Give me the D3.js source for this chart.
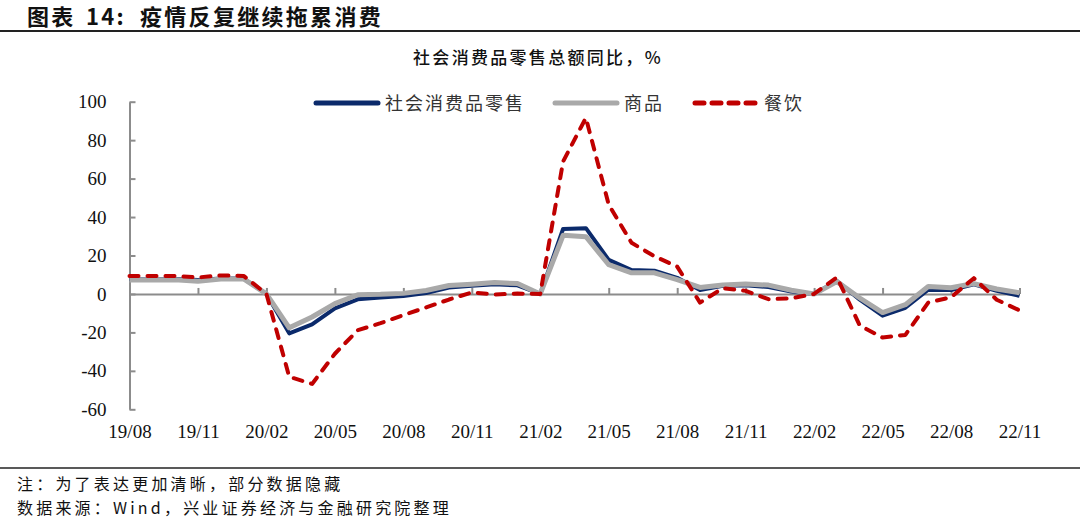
<!DOCTYPE html>
<html>
<head>
<meta charset="utf-8">
<script src="https://cdn.jsdelivr.net/npm/d3@7/dist/d3.min.js"></script>
<style>
  body { margin: 0; background: #fff; }
  svg { display: block; }
</style>
</head>
<body>
<div id="chart"></div>
<script>
// months 19/08 .. 22/11 (Jan values hidden -> 0)
const months = ["19/08","19/09","19/10","19/11","19/12","20/01","20/02","20/03","20/04","20/05",
  "20/06","20/07","20/08","20/09","20/10","20/11","20/12","21/01","21/02","21/03",
  "21/04","21/05","21/06","21/07","21/08","21/09","21/10","21/11","21/12","22/01",
  "22/02","22/03","22/04","22/05","22/06","22/07","22/08","22/09","22/10","22/11"];

const retail = [7.6, 7.5, 7.8, 7.2, 8.0, 8.0, 0, -20.5, -15.8, -7.5,
  -2.8, -1.8, -1.1, 0.5, 3.3, 4.3, 5.0, 4.5, 0, 33.8,
  34.2, 17.7, 12.4, 12.1, 8.4, 2.0, 4.2, 4.5, 3.6, 1.3,
  0, 6.7, -3.0, -11.3, -7.2, 2.2, 2.0, 5.0, 1.6, -1.0];

const goods = [7.3, 7.2, 7.4, 6.6, 7.8, 7.8, 0, -17.6, -12.0, -5.0,
  -0.4, -0.2, 0.3, 1.8, 4.4, 5.1, 5.9, 5.4, 0, 30.5,
  29.8, 15.2, 11.0, 11.0, 7.4, 3.4, 4.7, 5.2, 4.6, 1.9,
  0, 6.4, -2.1, -9.7, -5.6, 3.9, 3.2, 5.4, 2.6, 0.6];

const catering = [9.4, 9.4, 9.3, 8.6, 9.6, 9.4, 0, -43.1, -46.8, -31.1,
  -18.9, -15.2, -11.0, -7.0, -2.9, 0.8, -0.3, 0.2, 0, 68.9,
  91.6, 46.4, 26.6, 19.6, 14.2, -4.5, 3.0, 1.6, -2.7, -2.3,
  0, 8.7, -16.4, -22.7, -21.3, -4.5, -1.7, 8.2, -3.0, -8.5];

const yTicks = [-60, -40, -20, 0, 20, 40, 60, 80, 100];
const xLabels = months.filter((d, i) => i % 3 === 0);

const series = [
  { name: "社会消费品零售", values: retail, color: "#0b2a6b", width: 4, dash: null },
  { name: "商品", values: goods, color: "#a9a9a9", width: 5, dash: null },
  { name: "餐饮", values: catering, color: "#c00000", width: 4, dash: "9,9" }
];

const width = 1080, height = 519;
const svg = d3.select("#chart").append("svg")
  .attr("width", width)
  .attr("height", height);

const x = d3.scalePoint().domain(months).range([129.5, 1019.5]);
const y = d3.scaleLinear().domain([-60, 100]).range([409.3, 101.7]);

// title, pieces placed like the original layout
const title = svg.append("text")
  .attr("y", 25)
  .attr("font-family", "Noto Sans CJK SC")
  .attr("font-weight", 700)
  .attr("font-size", 22)
  .attr("letter-spacing", 2.3)
  .attr("fill", "#111");
title.append("tspan").attr("x", 27).text("图表");
title.append("tspan").attr("x", 86).text("14:");
title.append("tspan").attr("x", 140).text("疫情反复继续拖累消费");

svg.append("line")
  .attr("x1", 0).attr("x2", width)
  .attr("y1", 31).attr("y2", 31)
  .attr("stroke", "#222").attr("stroke-width", 2);

svg.append("text")
  .attr("x", 538).attr("y", 64)
  .attr("text-anchor", "middle")
  .attr("font-family", "Noto Sans CJK SC")
  .attr("font-weight", 500)
  .attr("font-size", 17)
  .attr("letter-spacing", 2.3)
  .attr("fill", "#111")
  .text("社会消费品零售总额同比，%");

// y axis
const yAxis = svg.append("g")
  .attr("transform", "translate(129.5,0)")
  .call(d3.axisLeft(y).tickValues(yTicks).tickFormat(d => String(d))
    .tickSizeInner(-6).tickSizeOuter(0).tickPadding(23));
yAxis.select(".domain").attr("stroke", "#8c8c8c").attr("stroke-width", 2);
yAxis.selectAll(".tick line").attr("stroke", "#8c8c8c").attr("stroke-width", 2);
yAxis.selectAll(".tick text")
  .attr("font-family", "Liberation Serif")
  .attr("font-size", 19)
  .attr("fill", "#111");

// zero line with ticks
const xAxis = svg.append("g")
  .attr("transform", `translate(0,${y(0)})`)
  .call(d3.axisBottom(x).tickValues(xLabels).tickSizeInner(-6).tickSizeOuter(0).tickFormat(""));
xAxis.select(".domain").attr("stroke", "#8c8c8c").attr("stroke-width", 2);
xAxis.selectAll(".tick line").attr("stroke", "#8c8c8c").attr("stroke-width", 2);

// category labels at bottom
const xLab = svg.append("g")
  .attr("transform", "translate(0,424)")
  .call(d3.axisBottom(x).tickValues(xLabels).tickSize(0).tickPadding(0));
xLab.select(".domain").remove();
xLab.selectAll(".tick text")
  .attr("font-family", "Liberation Serif")
  .attr("font-size", 19)
  .attr("fill", "#111");

// lines
const line = d3.line().x((d, i) => x(months[i])).y(d => y(d));
svg.append("g").selectAll("path")
  .data(series)
  .join("path")
  .attr("d", d => line(d.values))
  .attr("fill", "none")
  .attr("stroke", d => d.color)
  .attr("stroke-width", d => d.width)
  .attr("stroke-dasharray", d => d.dash)
  .attr("stroke-linecap", d => d.dash ? "round" : "butt")
  .attr("stroke-linejoin", "round");

// legend
const legendPos = [316, 555, 695];
const lg = svg.append("g").selectAll("g")
  .data(series)
  .join("g")
  .attr("transform", (d, i) => `translate(${legendPos[i]},103)`);
lg.append("line")
  .attr("x1", 0).attr("x2", 62)
  .attr("stroke", d => d.color)
  .attr("stroke-width", 5)
  .attr("stroke-linecap", "round")
  .attr("stroke-dasharray", d => d.dash ? "9,8" : null);
lg.append("text")
  .attr("x", 69).attr("y", 7)
  .attr("font-family", "Noto Sans CJK SC")
  .attr("font-size", 18)
  .attr("letter-spacing", 2)
  .attr("fill", "#333")
  .text(d => d.name);

// footer
svg.append("line")
  .attr("x1", 0).attr("x2", width)
  .attr("y1", 468).attr("y2", 468)
  .attr("stroke", "#222").attr("stroke-width", 1.5);

const notes = ["注：为了表达更加清晰，部分数据隐藏", "数据来源：Wind，兴业证券经济与金融研究院整理"];
svg.append("g").selectAll("text")
  .data(notes)
  .join("text")
  .attr("x", 17)
  .attr("y", (d, i) => 490 + i * 24)
  .attr("font-family", "Noto Sans CJK SC")
  .attr("font-size", 16)
  .attr("letter-spacing", 3.2)
  .attr("fill", "#111")
  .text(d => d);
</script>
</body>
</html>
